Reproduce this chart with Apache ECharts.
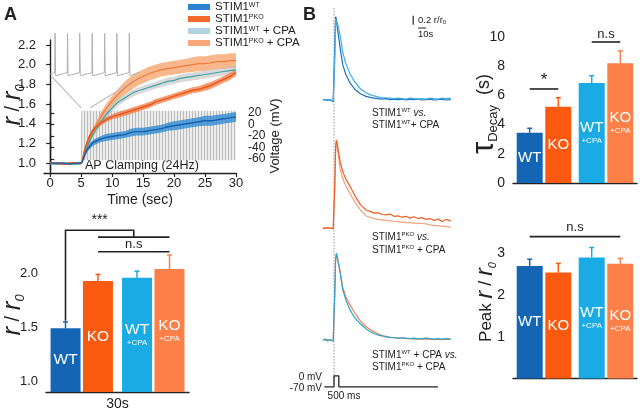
<!DOCTYPE html>
<html><head><meta charset="utf-8">
<script src="https://cdn.jsdelivr.net/npm/echarts@6/dist/echarts.min.js"></script>
<style>html,body{margin:0;padding:0;background:#fff}#c{width:640px;height:412px}</style>
</head><body><div id="c"></div>
<script>
// ---------------- DATA ----------------
// Panel A (top): mean r/r0 time courses with SEM
const timeSec = [0,1,2,3,4,5,5.5,6,6.5,7,8,9,10,11,12,13,14,15,16,17,18,19,20,21,22,23,24,25,26,27,28,29,30];
const wtMean = [1.00,1.00,1.00,0.99,1.00,1.00, 1.07,1.14,1.18,1.21, 1.24,1.26,1.27,1.28,1.29,1.31,1.32,1.32,1.33,1.34,1.35,1.37,1.38,1.39,1.40,1.41,1.42,1.43,1.43,1.44,1.45,1.46,1.47];
const wtErr = [0.01,0.01,0.01,0.01,0.01,0.01, 0.02,0.025,0.03,0.03, 0.03,0.035,0.035,0.035,0.035,0.04,0.04,0.04,0.04,0.04,0.04,0.04,0.045,0.045,0.045,0.045,0.045,0.05,0.05,0.05,0.05,0.05,0.05];
const pkoMean = [1.00,1.00,0.99,1.00,1.00,1.00, 1.12,1.22,1.29,1.34, 1.40,1.44,1.47,1.49,1.51,1.53,1.55,1.57,1.59,1.62,1.64,1.66,1.68,1.70,1.72,1.74,1.75,1.77,1.79,1.82,1.85,1.88,1.92];
const pkoErr = [0.01,0.01,0.01,0.01,0.01,0.01, 0.02,0.025,0.025,0.025, 0.025,0.025,0.025,0.03,0.03,0.03,0.03,0.03,0.03,0.03,0.03,0.03,0.03,0.03,0.03,0.03,0.03,0.035,0.035,0.035,0.035,0.035,0.035];
const wtCpaMean = [1.00,0.99,1.00,1.00,0.99,1.00, 1.09,1.17,1.24,1.30, 1.40,1.49,1.56,1.62,1.66,1.70,1.73,1.75,1.77,1.79,1.81,1.83,1.84,1.86,1.87,1.88,1.89,1.90,1.91,1.92,1.93,1.94,1.95];
const wtCpaErr = [0.01,0.01,0.01,0.01,0.01,0.01, 0.02,0.025,0.03,0.03, 0.035,0.035,0.035,0.035,0.035,0.035,0.035,0.035,0.035,0.035,0.04,0.04,0.04,0.04,0.04,0.04,0.04,0.04,0.04,0.04,0.04,0.04,0.04];
const pkoCpaMean = [1.00,1.00,1.00,0.99,1.00,1.00, 1.09,1.18,1.26,1.33, 1.45,1.55,1.63,1.70,1.76,1.81,1.85,1.88,1.91,1.93,1.95,1.96,1.97,1.98,1.99,2.00,2.01,2.01,2.02,2.03,2.03,2.04,2.04];
const pkoCpaErr = [0.01,0.01,0.01,0.01,0.01,0.01, 0.02,0.03,0.035,0.04, 0.045,0.05,0.055,0.06,0.065,0.07,0.07,0.07,0.07,0.07,0.07,0.07,0.07,0.07,0.07,0.075,0.075,0.075,0.075,0.075,0.075,0.075,0.075];
const xTicksA = [0,5,10,15,20,25,30];
const yTicksA = [1.0,1.2,1.4,1.6,1.8,2.0,2.2];
const voltTicks = [-60,-40,-20,0,20];
// AP clamping window (s) and its voltage span (mV), resting level
const apWindow = [5,30];
const apSpan = [-62,24];
const apRest = -48;
// inset: AP waveform (ms, mV)
const insetAP = [[0,-61],[16,-58],[17,30],[19,-65],[25,-62],[58,-58],[59,30],[61,-65],[67,-62],[99,-58],[100,30],[102,-65],[108,-62],[141,-58],[142,30],[144,-65],[150,-62],[183,-58],[184,30],[186,-65],[192,-62],[224,-58],[225,30],[227,-65],[233,-62],[266,-58],[267,30],[269,-65],[275,-62],[303,-57]];
// zoom connector lines (s, r/r0)
const zoomLeft = [[0.32,1.875],[5.0,1.561]];
const zoomRight = [[14.5,1.875],[6.45,1.561]];

// Panel A (bottom): r/r0 at 30 s  order: WT, KO, WT+CPA, KO+CPA
const groupNames = ['WT','KO','WT +CPA','KO +CPA'];
const r30Mean = [1.49,1.93,1.96,2.04];
const r30Err = [0.06,0.06,0.06,0.13];
const yTicksA2 = [1.0,1.5,2.0];

// Panel B: example traces (s, r/r0)
const traceT = [-14,-11,-8,-5,-3,-1,0,1,2,3,4,6,8,11,15,20,26,33,40,45,50,55,60,65,70,75,80,85,90,95,100,105,110,115,120,125,130,135,140,146];
const trWT = [1.00,1.01,0.99,1.01,1.00,0.96,1.00,2.20,2.85,2.80,2.62,2.38,2.11,1.78,1.56,1.38,1.24,1.14,1.08,1.06,1.04,1.03,1.02,1.03,1.01,1.02,1.01,1.02,1.00,1.02,1.01,1.02,1.00,1.01,1.02,1.00,1.01,1.02,1.00,1.01];
const trWTcpa = [1.00,1.00,1.01,0.99,1.00,0.98,1.00,1.90,2.80,2.78,2.72,2.58,2.40,2.05,1.80,1.58,1.40,1.25,1.16,1.12,1.09,1.07,1.05,1.05,1.04,1.03,1.04,1.03,1.02,1.04,1.03,1.02,1.03,1.02,1.04,1.03,1.02,1.04,1.03,1.04];
const trKO = [1.00,0.99,1.01,1.00,1.01,0.98,1.00,2.00,2.80,2.96,2.88,2.66,2.45,2.25,2.08,1.93,1.72,1.52,1.40,1.37,1.33,1.34,1.30,1.29,1.31,1.26,1.27,1.24,1.26,1.22,1.25,1.21,1.23,1.19,1.21,1.17,1.20,1.14,1.19,1.16];
const trKOcpa = [1.00,1.01,0.99,1.00,1.00,1.00,1.00,1.80,2.70,2.92,2.80,2.52,2.28,2.10,1.92,1.77,1.58,1.40,1.27,1.24,1.21,1.19,1.18,1.17,1.16,1.15,1.14,1.13,1.12,1.12,1.11,1.11,1.10,1.09,1.07,1.06,1.05,1.04,1.03,1.02];
const trWTcpa2 = [1.00,1.02,0.98,1.01,1.00,0.97,1.00,2.10,2.80,2.93,2.85,2.65,2.45,2.11,1.88,1.67,1.49,1.36,1.25,1.19,1.14,1.11,1.09,1.07,1.06,1.05,1.04,1.05,1.04,1.03,1.04,1.02,1.03,1.04,1.03,1.02,1.03,1.02,1.03,1.02];
const trKOcpa2 = [1.00,1.00,1.01,0.99,1.00,1.00,1.00,2.00,2.75,2.90,2.85,2.70,2.50,2.16,1.95,1.78,1.60,1.42,1.30,1.24,1.18,1.14,1.10,1.08,1.06,1.05,1.04,1.04,1.03,1.03,1.02,1.03,1.02,1.02,1.02,1.01,1.02,1.01,1.02,1.01];
// stimulus command (s, mV)
const stimTrace = [[-12,-70],[0,-70],[0,0],[6,0],[6,-70],[130,-70]];
// scale bars: 0.2 r/r0 and 10 s
const scaleV = [[99,2.87],[99,2.67]];
const scaleH = [[105,2.6],[115,2.6]];

// Panel B bars  order: WT, KO, WT+CPA, KO+CPA
const tauMean = [3.45,5.22,6.85,8.20];
const tauErr = [0.30,0.62,0.50,0.85];
const peakMean = [2.69,2.53,2.89,2.74];
const peakErr = [0.16,0.22,0.24,0.13];

// ---------------- STYLE ----------------
const FONT = "'Liberation Sans', Arial, Helvetica, sans-serif";
const C = {wt:'#1565b5', ko:'#fa5a0f', wtc:'#1aabe4', koc:'#fd8049'};
const barColors = [C.wt, C.ko, C.wtc, C.koc];
const INK = '#222';

const chart = echarts.init(document.getElementById('c'), null, {renderer:'canvas'});

function pairs(xs, ys){ return xs.map((x,i)=>[x, ys[i]]); }

function band(mean, err, color, z){
  return {type:'custom', xAxisIndex:0, yAxisIndex:0, z:z, silent:true, data:[[0,1]],
    renderItem:(p, api)=>{
      const up = timeSec.map((t,i)=>api.coord([t, mean[i]+err[i]]));
      const lo = timeSec.map((t,i)=>api.coord([t, mean[i]-err[i]])).reverse();
      return {type:'polygon', shape:{points: up.concat(lo)}, style:{fill: color}};
    }};
}
function meanLine(name, mean, color, w){
  return {type:'line', name:name, xAxisIndex:0, yAxisIndex:0, z:4, data:pairs(timeSec, mean),
    showSymbol:false, smooth:0.25, lineStyle:{color:color, width:w}, itemStyle:{color:color}};
}
function trace(g, vals, color){
  return {type:'line', xAxisIndex:g, yAxisIndex:g, data:pairs(traceT, vals), showSymbol:false,
    lineStyle:{color:color, width:1.2}, silent:true};
}
function labelFor(i, big){
  const t = ['{a|WT}','{a|KO}','{a|WT}\n{b|+CPA}','{a|KO}\n{b|+CPA}'];
  return {show:true, position:'inside', formatter:t[i],
    rich:{a:{fontSize:big, color:'#fff', fontFamily:FONT, lineHeight:big+1, align:'center'},
          b:{fontSize:8, color:'#fff', fontFamily:FONT, lineHeight:10, align:'center'}}};
}
function barPair(g, means, bw, gap, big){
  return [
    {type:'bar', xAxisIndex:g, yAxisIndex:g, barWidth:bw, barGap:gap, silent:true,
      data:[{value:means[0], itemStyle:{color:barColors[0]}, label:labelFor(0,big)},
            {value:means[2], itemStyle:{color:barColors[2]}, label:labelFor(2,big)}]},
    {type:'bar', xAxisIndex:g, yAxisIndex:g, barWidth:bw, barGap:gap, silent:true,
      data:[{value:means[1], itemStyle:{color:barColors[1]}, label:labelFor(1,big)},
            {value:means[3], itemStyle:{color:barColors[3]}, label:labelFor(3,big)}]}
  ];
}
function errBars(g, means, errs, off){
  return {type:'custom', xAxisIndex:g, yAxisIndex:g, z:3, silent:true,
    data: means.map((m,i)=>[i<2?0:1, m, m+errs[i], i]),
    renderItem:(p, api)=>{
      const i = api.value(3);
      const b = api.coord([api.value(0), api.value(1)]);
      const t = api.coord([api.value(0), api.value(2)]);
      const x = b[0] + (i%2 ? off : -off);
      const st = {stroke:barColors[i], lineWidth:1.5};
      return {type:'group', children:[
        {type:'line', shape:{x1:x,y1:b[1],x2:x,y2:t[1]}, style:st},
        {type:'line', shape:{x1:x-2.5,y1:t[1],x2:x+2.5,y2:t[1]}, style:st}]};
    }};
}
function sig(g, off, build){
  return {type:'custom', xAxisIndex:g, yAxisIndex:g, z:6, silent:true, clip:false, data:[[0,0]],
    renderItem:(p, api)=>{
      const bx = i => api.coord([i<2?0:1, 0])[0] + (i%2 ? off : -off);
      const py = v => api.coord([0, v])[1];
      return {type:'group', children: build(bx, py)};
    }};
}
function pl(points){ return {type:'polyline', shape:{points:points}, style:{stroke:INK, lineWidth:1.6, fill:null}}; }
function tx(x, y, s, fs){ return {type:'text', x:x, y:y, style:{text:s, fill:INK, fontSize:fs, fontFamily:FONT, align:'center', verticalAlign:'middle'}}; }

const axLine = {lineStyle:{color:INK, width:1.4}};
const axTick = {length:4, lineStyle:{color:INK, width:1.2}};
const hidden = (g, mn, mx) => ({type:'value', gridIndex:g, min:mn, max:mx, show:false});
const hiddenCat = (g) => ({type:'category', gridIndex:g, data:['ctrl','CPA'], axisLine:axLine, axisTick:{show:false}, axisLabel:{show:false}});

// AP pattern (vertical gray stripes)
const pc = document.createElement('canvas'); pc.width = 3; pc.height = 4;
const pctx = pc.getContext('2d');
pctx.fillStyle = '#ececec'; pctx.fillRect(0,0,3,4);
pctx.fillStyle = '#bdbdbd'; pctx.fillRect(0,0,1,4);

const legendNames = {
  'STIM1 WT':'{a|STIM1}{s|WT}', 'STIM1 PKO':'{a|STIM1}{s|PKO}',
  'STIM1 WT + CPA':'{a|STIM1}{s|WT}{a| + CPA}', 'STIM1 PKO + CPA':'{a|STIM1}{s|PKO}{a| + CPA}'};

const richR = {
  r:{fontSize:26, fontStyle:'italic', fontFamily:FONT, color:INK, lineHeight:28},
  sl:{fontSize:20, fontFamily:FONT, color:INK, lineHeight:28},
  z:{fontSize:13, fontStyle:'italic', fontFamily:FONT, color:INK, lineHeight:13, verticalAlign:'bottom'},
  p:{fontSize:18, fontFamily:FONT, color:INK, lineHeight:28}
};
const richP = {
  r:{fontSize:23, fontStyle:'italic', fontFamily:FONT, color:INK, lineHeight:24},
  sl:{fontSize:18, fontFamily:FONT, color:INK, lineHeight:24},
  z:{fontSize:11, fontStyle:'italic', fontFamily:FONT, color:INK, lineHeight:11, verticalAlign:'bottom'},
  p:{fontSize:17, fontFamily:FONT, color:INK, lineHeight:24}
};
const richT = {
  n:{fontSize:10, fontFamily:FONT, color:INK, lineHeight:11},
  s:{fontSize:6, fontFamily:FONT, color:INK, lineHeight:6, verticalAlign:'top'},
  i:{fontSize:10, fontFamily:FONT, fontStyle:'italic', color:INK, lineHeight:11}
};
function gtext(x, y, text, rich, align, rot){
  return {type:'text', x:x, y:y, rotation:rot||0, silent:true,
    style:{text:text, rich:rich, align:align||'left', verticalAlign:'middle', fill:INK, fontFamily:FONT}};
}

const option = {
  animation:false,
  textStyle:{fontFamily:FONT},
  legend:{left:183, top:-4, orient:'vertical', itemWidth:22, itemHeight:6, itemGap:0, icon:'rect',
    formatter:n=>legendNames[n],
    textStyle:{color:INK, rich:{a:{fontSize:11.5, color:INK, lineHeight:10.5, fontFamily:FONT},
                                 s:{fontSize:7, color:INK, lineHeight:7, verticalAlign:'top', fontFamily:FONT}}},
    data:[{name:'STIM1 WT', itemStyle:{color:'#2b82d2'}},
          {name:'STIM1 PKO', itemStyle:{color:'#f26a2a'}},
          {name:'STIM1 WT + CPA', itemStyle:{color:'#b3d1e2'}},
          {name:'STIM1 PKO + CPA', itemStyle:{color:'#f8a878'}}]},
  grid:[
    {left:44, top:40, width:192, height:133},
    {left:44, top:101.5, width:192, height:69},
    {left:50, top:31, width:90, height:47},
    {left:46, top:241, width:143, height:153},
    {left:310, top:10, width:144, height:99},
    {left:310, top:138, width:144, height:99},
    {left:310, top:250, width:144, height:99},
    {left:310, top:375, width:144, height:12.6},
    {left:513, top:37, width:124, height:146},
    {left:513, top:232, width:124, height:146.5}
  ],
  xAxis:[
    {type:'value', gridIndex:0, min:-1, max:30, axisLine:axLine,
      axisTick:Object.assign({customValues:xTicksA}, axTick),
      axisLabel:{customValues:xTicksA, color:INK, fontSize:13, margin:4},
      splitLine:{show:false},
      name:'Time (sec)', nameLocation:'middle', nameGap:20, nameTextStyle:{fontSize:14, color:INK}},
    hidden(1,-1,30),
    hidden(2,0,303),
    Object.assign(hiddenCat(3), {name:'30s', nameLocation:'middle', nameGap:5, nameTextStyle:{fontSize:14, color:INK, verticalAlign:'top'}}),
    hidden(4,-30,150), hidden(5,-30,150), hidden(6,-30,150), hidden(7,-30,150),
    hiddenCat(8), hiddenCat(9)
  ],
  yAxis:[
    {type:'value', gridIndex:0, min:0.9, max:2.25, axisLine:axLine,
      axisTick:Object.assign({customValues:yTicksA}, axTick),
      axisLabel:{customValues:yTicksA, color:INK, fontSize:13, formatter:v=>v.toFixed(1)},
      splitLine:{show:false}},
    {type:'value', gridIndex:1, position:'right', offset:7, min:-80, max:40, interval:20, axisLine:axLine,
      axisTick:Object.assign({customValues:voltTicks}, axTick),
      axisLabel:{color:INK, fontSize:12, margin:5, formatter:v=>voltTicks.indexOf(v) >= 0 ? String(v) : ''},
      splitLine:{show:false},
      name:'Voltage (mV)', nameLocation:'middle', nameRotate:90, nameGap:24, nameTextStyle:{fontSize:13, color:INK}},
    hidden(2,-70,35),
    {type:'value', gridIndex:3, min:0.9, max:2.3, axisLine:axLine,
      axisTick:Object.assign({customValues:yTicksA2}, axTick),
      axisLabel:{customValues:yTicksA2, color:INK, fontSize:13, formatter:v=>v.toFixed(1)},
      splitLine:{show:false}},
    hidden(4,0.8,3.0), hidden(5,0.8,3.0), hidden(6,0.8,3.0), hidden(7,-75,5),
    {type:'value', gridIndex:8, min:0, max:10, interval:2, axisLine:axLine, axisTick:axTick,
      axisLabel:{color:INK, fontSize:14}, splitLine:{show:false}},
    {type:'value', gridIndex:9, min:0, max:3.5, axisLine:axLine,
      axisTick:Object.assign({customValues:[1,2,3]}, axTick),
      axisLabel:{customValues:[1,2,3], color:INK, fontSize:14}, splitLine:{show:false}}
  ],
  series:[
    // AP clamping region
    {type:'line', xAxisIndex:1, yAxisIndex:1, z:0, silent:true, showSymbol:false,
      data:[[apWindow[0],apRest],[apWindow[1],apRest]], lineStyle:{color:'#b8b8b8', width:3},
      markArea:{silent:true, itemStyle:{color:{image:pc, repeat:'repeat'}},
        data:[[{coord:[apWindow[0],apSpan[1]]},{coord:[apWindow[1],apSpan[0]]}]]}},
    // inset AP
    {type:'line', xAxisIndex:2, yAxisIndex:2, data:insetAP, showSymbol:false, silent:true,
      lineStyle:{color:'#b0b0b0', width:1}},
    {type:'line', xAxisIndex:0, yAxisIndex:0, data:zoomLeft, showSymbol:false, silent:true, lineStyle:{color:'#c4c4c4', width:1.3}},
    {type:'line', xAxisIndex:0, yAxisIndex:0, data:zoomRight, showSymbol:false, silent:true, lineStyle:{color:'#c4c4c4', width:1.3}},
    band(pkoCpaMean, pkoCpaErr, 'rgba(247,160,100,0.75)', 1),
    band(wtCpaMean, wtCpaErr, 'rgba(185,185,185,0.55)', 1),
    band(pkoMean, pkoErr, 'rgba(243,112,52,0.7)', 1),
    band(wtMean, wtErr, 'rgba(38,135,212,0.75)', 1),
    meanLine('STIM1 PKO + CPA', pkoCpaMean, '#f07a40', 1.2),
    meanLine('STIM1 WT + CPA', wtCpaMean, '#3fa3a8', 1.2),
    meanLine('STIM1 PKO', pkoMean, '#ea5316', 1.4),
    meanLine('STIM1 WT', wtMean, '#1660b0', 1.4),
    // A bottom bars
    ...barPair(3, r30Mean, 30, '8%', 15.5),
    errBars(3, r30Mean, r30Err, 16.25),
    sig(3, 16.25, (bx, py)=>{
      const mid = (bx(1)+bx(3))/2;
      return [
        pl([[bx(0),py(1.56)],[bx(0),py(2.40)],[mid,py(2.40)],[mid,py(2.336)]]),
        pl([[bx(1),py(2.336)],[bx(3),py(2.336)]]),
        pl([[bx(1),py(2.2)],[bx(3),py(2.2)]]),
        tx((bx(0)+mid)/2, py(2.49), '***', 14),
        tx(mid, py(2.268), 'n.s', 13)];
    }),
    // B traces
    trace(4, trWT, '#1d6fbf'), trace(4, trWTcpa, '#3eaee3'),
    {type:'line', xAxisIndex:4, yAxisIndex:4, data:scaleV, showSymbol:false, silent:true, lineStyle:{color:INK, width:1.2}},
    {type:'line', xAxisIndex:4, yAxisIndex:4, data:scaleH, showSymbol:false, silent:true, lineStyle:{color:INK, width:1.2}},
    trace(5, trKOcpa, '#f5a27a'), trace(5, trKO, '#ec5f28'),
    trace(6, trKOcpa2, '#ee8050'), trace(6, trWTcpa2, '#2aa6d2'),
    {type:'line', xAxisIndex:7, yAxisIndex:7, data:stimTrace, showSymbol:false, silent:true, lineStyle:{color:INK, width:1.3}},
    // tau bars
    ...barPair(8, tauMean, 26, '10%', 15),
    errBars(8, tauMean, tauErr, 14.3),
    sig(8, 14.3, (bx, py)=>[
      pl([[bx(0),py(6.44)],[bx(1),py(6.44)]]), tx((bx(0)+bx(1))/2, py(7.0), '*', 17),
      pl([[bx(2),py(9.66)],[bx(3),py(9.66)]]), tx((bx(2)+bx(3))/2, py(10.2), 'n.s', 13)]),
    // peak bars
    ...barPair(9, peakMean, 26, '10%', 15),
    errBars(9, peakMean, peakErr, 14.3),
    sig(9, 14.3, (bx, py)=>[
      pl([[bx(0),py(3.39)],[bx(3),py(3.39)]]), tx((bx(0)+bx(3))/2, py(3.62), 'n.s', 13)])
  ],
  graphic:[
    {type:'text', x:4, y:6, style:{text:'A', fontSize:18, fontWeight:'bold', fill:INK, fontFamily:FONT}},
    {type:'text', x:303, y:6, style:{text:'B', fontSize:18, fontWeight:'bold', fill:INK, fontFamily:FONT}},
    gtext(13, 105, '{r|r}{sl| / }{r|r}{z|0}', richR, 'center', Math.PI/2),
    gtext(13, 315, '{r|r}{sl| / }{r|r}{z|0}', richR, 'center', Math.PI/2),
    gtext(486, 302, '{p|Peak }{r|r}{sl| / }{r|r}{z|0}', richP, 'center', Math.PI/2),
    gtext(484, 114, '{t|τ}{d|Decay}{s|  (s)}', {
      t:{fontSize:31, fontFamily:FONT, color:INK, lineHeight:32},
      d:{fontSize:13, fontFamily:FONT, color:INK, lineHeight:13, verticalAlign:'bottom'},
      s:{fontSize:18, fontFamily:FONT, color:INK, lineHeight:32}}, 'center', Math.PI/2),
    gtext(85, 166, '{n|AP Clamping (24Hz)}', {n:{fontSize:12.5, fontFamily:FONT, color:INK}}, 'left'),
    gtext(372, 113, '{n|STIM1}{s|WT}{i| vs.}', richT), gtext(372, 125, '{n|STIM1}{s|WT}{n|+ CPA}', richT),
    gtext(372, 237, '{n|STIM1}{s|PKO}{i| vs.}', richT), gtext(372, 250, '{n|STIM1}{s|PKO}{n| + CPA}', richT),
    gtext(372, 355, '{n|STIM1}{s|WT}{n| + CPA }{i|vs.}', richT), gtext(372, 367, '{n|STIM1}{s|PKO}{n| + CPA}', richT),
    gtext(322, 377, '{n|0 mV}', richT, 'right'), gtext(322, 388, '{n|-70 mV}', richT, 'right'),
    gtext(344, 396, '{n|500 ms}', richT, 'center'),
    gtext(418, 20, '{n|0.2 r/r}{s2|0}', {n:{fontSize:9.5, fontFamily:FONT, color:INK}, s2:{fontSize:6, fontFamily:FONT, color:INK, verticalAlign:'bottom'}}),
    gtext(418, 34, '{n|10s}', {n:{fontSize:9.5, fontFamily:FONT, color:INK}})
  ]
};
chart.setOption(option);
// stimulus-onset dotted line across the three trace panels
const x0 = chart.convertToPixel({xAxisIndex:4}, 0);
chart.setOption({graphic: option.graphic.concat([{type:'line', silent:true, z:-1,
  shape:{x1:x0, y1:8, x2:x0, y2:384}, style:{stroke:'#9a9a9a', lineWidth:1, lineDash:[1.5,1.5]}}])});
</script></body></html>
